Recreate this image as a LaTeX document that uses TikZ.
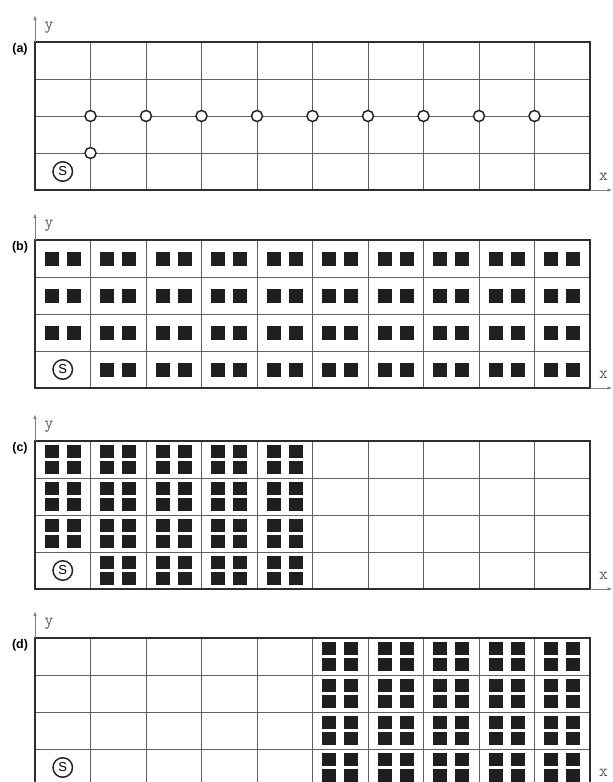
\documentclass[tikz,border=0pt]{standalone}
\usepackage{fontspec}
\setmainfont{Liberation Sans}
\usetikzlibrary{arrows.meta}

\tikzset{
  gridline/.style={draw=black!62, line width=1pt},
  framebox/.style={draw=black!82, line width=2pt},
  axisline/.style={draw=black!50, line width=0.9pt, -{Latex[length=5pt,width=3.5pt]}},
  axislabel/.style={text=black!65, font=\ttfamily\fontsize{17}{17}\selectfont, inner sep=0pt},
  panellabel/.style={font=\bfseries\fontsize{12.5}{12.5}\selectfont, inner sep=0pt},
  tracer/.style={circle, draw=black!85, fill=white, line width=1.5pt, minimum size=11pt, inner sep=0pt},
  source/.style={circle, draw=black!85, line width=1.5pt, minimum size=19.5pt, inner sep=0pt,
    font=\fontsize{13}{13}\selectfont},
  block/.style={fill=black!88},
}

\begin{document}
\begin{tikzpicture}[x=1pt,y=-1pt]
  \useasboundingbox (0,0) rectangle (613,782);
  \clip (0,0) rectangle (613,782);

  \def\cellw{55.5}
  \def\cellh{37}
  \def\xl{35}
  \def\xr{590}

  % four panels: grid, frame, axes, labels
  \foreach \T/\lab in {42/a,240/b,441/c,638/d}{
    \foreach \i in {1,...,9}
      \draw[gridline] ({\xl+\i*\cellw},\T) -- ++(0,148);
    \foreach \j in {1,2,3}
      \draw[gridline] (\xl,{\T+\j*\cellh}) -- (\xr,{\T+\j*\cellh});
    \draw[framebox] (\xl,\T) rectangle (\xr,\T+148);

    \coordinate (ytip-\lab) at (\xl,\T-27);
    \coordinate (xtip-\lab) at (612.5,\T+148);
    \draw[axisline] (\xl,\T) -- (ytip-\lab);
    \draw[axisline] (\xr,\T+148) -- (xtip-\lab);

    \node[axislabel] (y-\lab) at (49,\T-14) {y};
    \node[axislabel] (x-\lab) at (603.5,\T+135) {x};
    \node[panellabel] (lab-\lab) at (20,\T+7) {(\lab)};
    \node[source] (s-\lab) at ({\xl+0.5*\cellw},{\T+3.5*\cellh}) {S};
  }

  % (a) tracer positions on grid points
  \foreach \i in {1,...,9}
    \node[tracer] (t-\i) at ({\xl+\i*\cellw},{42+2*\cellh}) {};
  \node[tracer] (t-0) at ({\xl+\cellw},{42+3*\cellh}) {};

  % (b) two blocks per cell
  \foreach \i in {0,...,9}
    \foreach \j in {0,...,3}{
      \ifnum\i\j=0 \else
        \foreach \dx in {-18,4}
          \fill[block] ({\xl+(\i+0.5)*\cellw+\dx},{240+(3.5-\j)*\cellh-7}) rectangle ++(14,14);
      \fi
    }

  % (c) and (d) four blocks per cell
  \foreach \T/\a/\b in {441/0/4,638/5/9}
    \foreach \i in {\a,...,\b}
      \foreach \j in {0,...,3}{
        \ifnum\i\j=0 \else
          \foreach \dx in {-18,4}
            \foreach \dy in {-14.7,1.7}
              \fill[block] ({\xl+(\i+0.5)*\cellw+\dx},{\T+(3.5-\j)*\cellh+\dy}) rectangle ++(14,13);
        \fi
      }
\end{tikzpicture}
\end{document}
